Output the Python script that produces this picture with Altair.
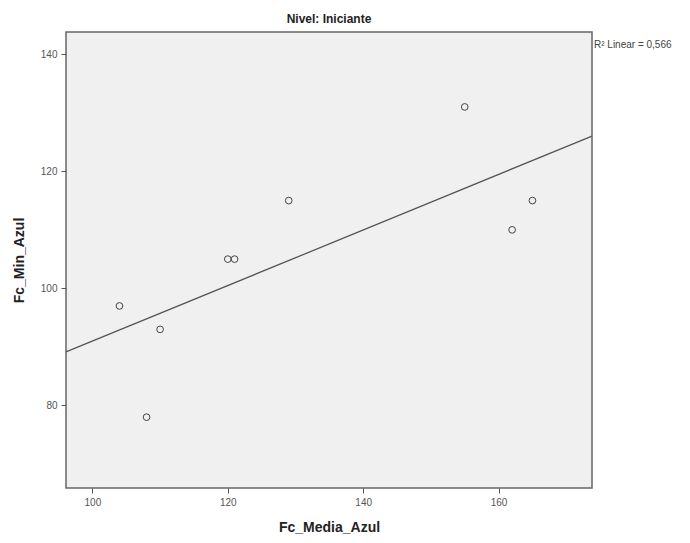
import altair as alt
import pandas as pd

# Data
fc_media_azul = [104, 108, 110, 120, 121, 129, 155, 162, 165]
fc_min_azul = [97, 78, 93, 105, 105, 115, 131, 110, 115]
x_ticks = [100, 120, 140, 160]
y_ticks = [80, 100, 120, 140]
x_domain = [96.1, 173.8]
y_domain = [65.9, 143.8]
r2_label = ["R² Linear = 0,566"]

df = pd.DataFrame({"Fc_Media_Azul": fc_media_azul, "Fc_Min_Azul": fc_min_azul})
lab = pd.DataFrame({"t": r2_label})

W, H = 526, 456

x_enc = alt.X(
    "Fc_Media_Azul:Q",
    title="Fc_Media_Azul",
    scale=alt.Scale(domain=x_domain, nice=False, zero=False),
    axis=alt.Axis(values=x_ticks, grid=False, domain=False, tickSize=5,
                  labelPadding=4, titlePadding=13),
)
y_enc = alt.Y(
    "Fc_Min_Azul:Q",
    title="Fc_Min_Azul",
    scale=alt.Scale(domain=y_domain, nice=False, zero=False),
    axis=alt.Axis(values=y_ticks, grid=False, domain=False, tickSize=5,
                  labelPadding=4, titlePadding=14),
)

points = alt.Chart(df).mark_point(
    shape="circle", filled=False, size=45, stroke="#444444", strokeWidth=1, opacity=1
).encode(x=x_enc, y=y_enc)

line = alt.Chart(df).transform_regression(
    "Fc_Media_Azul", "Fc_Min_Azul", extent=x_domain
).mark_line(color="#555555", strokeWidth=1.3).encode(x=x_enc, y=y_enc)

r2 = alt.Chart(lab).mark_text(
    align="left", baseline="middle", fontSize=10, color="#444444", font="Liberation Sans"
).encode(text="t:N", x=alt.value(W + 2), y=alt.value(13))

chart = alt.layer(line, points, r2).properties(
    width=W,
    height=H,
    background="white",
    title=alt.TitleParams("Nivel: Iniciante", fontSize=12, fontWeight="bold",
                          font="Liberation Sans", color="#222222", offset=6,
                          anchor="middle"),
    autosize=alt.AutoSizeParams(type="none"),
    padding={"left": 66, "top": 32, "right": 98, "bottom": 55},
).configure_view(
    fill="#f0f0f0", stroke="#666666", strokeWidth=1.5
).configure_axis(
    labelFont="Liberation Sans", labelFontSize=10, labelColor="#555555",
    titleFont="Liberation Sans", titleFontSize=14, titleFontWeight="bold",
    titleColor="#222222", tickColor="#555555",
)

chart.save("out.html", embed_options={"renderer": "svg", "actions": False})
